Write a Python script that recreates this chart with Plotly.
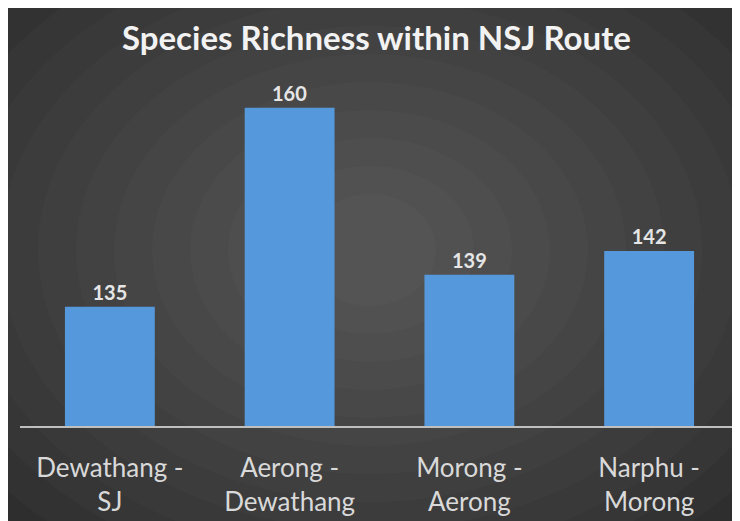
import plotly.graph_objects as go

# chart data
routes = ["Dewathang -<br>SJ", "Aerong -<br>Dewathang", "Morong -<br>Aerong", "Narphu -<br>Morong"]
richness = [135, 160, 139, 142]

W, H = 740, 521
# page body adds ~8px offset, so plot box is shifted accordingly
L, R, T, B = 12, 9, 60, 103
pw, ph = W - L - R, H - T - B


def px_x(x):
    return (x - L) / pw


def px_y(y):
    return (H - B - y) / ph


fig = go.Figure()

fig.add_trace(go.Bar(
    x=routes,
    y=richness,
    width=0.5,
    marker=dict(color="#5598DB", line=dict(width=0)),
    text=richness,
    textposition="outside",
    textfont=dict(family="Lato", size=20, color="#E6E6E6", weight="bold"),
    cliponaxis=False,
))

# dark backdrop with a soft radial glow
shapes = [dict(type="rect", xref="paper", yref="paper", layer="below",
               x0=px_x(0), x1=px_x(W), y0=px_y(H), y1=px_y(0),
               fillcolor="#262626", line=dict(width=0))]
cx, cy = 362, 242
for i in range(14):
    rx = 560 - i * 38
    ry = 420 - i * 28
    shapes.append(dict(type="circle", xref="paper", yref="paper", layer="below",
                       x0=px_x(cx - rx), x1=px_x(cx + rx),
                       y0=px_y(cy + ry), y1=px_y(cy - ry),
                       fillcolor="rgba(255,255,255,0.018)", line=dict(width=0)))

fig.update_layout(
    width=W, height=H,
    margin=dict(l=L, r=R, t=T, b=B),
    paper_bgcolor="white",
    plot_bgcolor="rgba(0,0,0,0)",
    shapes=shapes,
    showlegend=False,
    bargap=0.5,
    title=dict(text="<b>Species Richness within NSJ Route</b>",
               x=px_x(370), xanchor="center", y=1 - 30 / H, yanchor="middle",
               font=dict(family="Lato", size=33, color="#F2F2F2")),
    xaxis=dict(showline=True, linecolor="#BFBFBF", linewidth=1.5,
               ticks="", ticklabelstandoff=18,
               tickfont=dict(family="Lato", size=26, color="#D9D9D9"),
               showgrid=False),
    yaxis=dict(range=[120, 165], visible=False, showgrid=False, zeroline=False),
)

fig.write_html("out.html")
